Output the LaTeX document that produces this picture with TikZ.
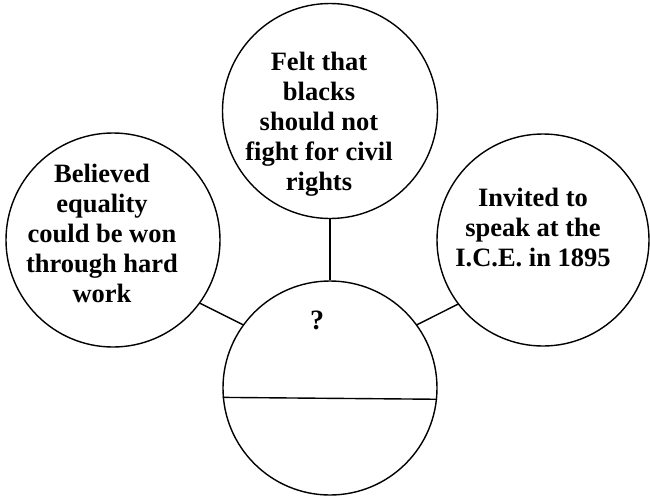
\documentclass[tikz,border=0pt]{standalone}
\usepackage{fontspec}
\setmainfont{Liberation Serif}
\begin{document}
\begin{tikzpicture}[x=1pt,y=-1pt,
  bubble/.style={draw=black,line width=1.4pt,circle,minimum size=#1,inner sep=0pt},
  bubtext/.style={align=center,inner sep=0pt,font=\bfseries\fontsize{26.5}{30}\selectfont},
  link/.style={draw=black,line width=1.4pt}]
\useasboundingbox (0,0) rectangle (650,496);
\node[bubble=215pt] (T) at (330,111) {};
\node[bubble=214pt] (L) at (113,240) {};
\node[bubble=212pt] (R) at (543,240) {};
\node[bubble=214pt] (B) at (330,388) {};
\node[bubtext] (Tt) at (319,124) {Felt that\\blacks\\should not\\fight for civil\\rights};
\node[bubtext] (Lt) at (102,233) {Believed\\equality\\could be won\\through hard\\work};
\node[bubtext] (Rt) at (533,227) {Invited to\\speak at the\\I.C.E. in 1895};
\node[inner sep=0pt,font=\bfseries\fontsize{28}{30}\selectfont] (Q) at (317,320) {?};
\draw[link] (T.south) -- (B.north);
\draw[link] (L.-36) -- (B.144);
\draw[link] (R.217) -- (B.36);
\draw[link] (B.185.4) -- (B.354.6);
\end{tikzpicture}
\end{document}
